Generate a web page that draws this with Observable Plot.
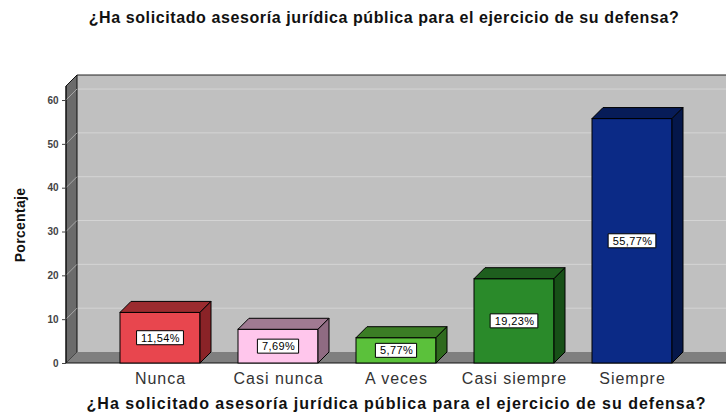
<!DOCTYPE html>
<html><head><meta charset="utf-8">
<script src="https://cdn.jsdelivr.net/npm/d3@7"></script>
<script src="https://cdn.jsdelivr.net/npm/@observablehq/plot@0.6"></script>
<style>
html,body{margin:0;padding:0;background:#fff;overflow:hidden;}
body{font-family:"Liberation Sans",Arial,sans-serif;}
#title{height:30px;line-height:36px;text-align:center;font-weight:bold;font-size:16px;letter-spacing:0.6px;color:#111;padding-left:42px;box-sizing:border-box;white-space:nowrap;}
#chart svg{display:block;}
g[aria-label="y-axis tick label"]{font-weight:bold;}
g[aria-label="x-axis tick label"] text{letter-spacing:1px;}
</style></head><body>
<div id="title"></div>
<div id="chart"></div>
<script>
const titleText = "¿Ha solicitado asesoría jurídica pública para el ejercicio de su defensa?";
const xAxisTitle = "¿Ha solicitado asesoría jurídica pública para el ejercicio de su defensa?";
const yLabel = "Porcentaje";
const categories = ["Nunca", "Casi nunca", "A veces", "Casi siempre", "Siempre"];
const percentages = [11.54, 7.69, 5.77, 19.23, 55.77];
const valueLabels = ["11,54%", "7,69%", "5,77%", "19,23%", "55,77%"];
const yTicks = [0, 10, 20, 30, 40, 50, 60];
const frontColors = ["#e8464e", "#ffc6ec", "#5bc13b", "#2a8a2a", "#0b2a86"];
const topColors = ["#9b2b2f", "#a07a92", "#3b7d25", "#1e5e1e", "#071c58"];
const sideColors = ["#8a2327", "#8f6b82", "#2f6a1e", "#175017", "#05174a"];

document.getElementById("title").textContent = titleText;

const data = categories.map((c, i) => ({
  category: c, value: percentages[i], label: valueLabels[i],
  front: frontColors[i], top: topColors[i], side: sideColors[i]
}));

const DEPTH = 11;
const Y_MAX = 63.2;
const LABEL_SPACING = 0.4;

const ctx = document.createElement("canvas").getContext("2d");
function measure(t, font) { ctx.font = font; return ctx.measureText(t).width; }

function bandwidthOf(scales) {
  if (scales.scales && scales.scales.x && scales.scales.x.bandwidth != null) return scales.scales.x.bandwidth;
  const bw = scales.x.bandwidth;
  return typeof bw === "function" ? bw() : bw;
}

function walls(index, scales, values, dims) {
  const sy = scales.y;
  const {width, marginLeft} = dims;
  const xf = marginLeft, xb = marginLeft + DEPTH, xr = width + DEPTH;
  const y0 = sy(0), yT = sy(Y_MAX);
  const g = d3.create("svg:g");
  g.append("rect").attr("x", xb).attr("y", yT - DEPTH).attr("width", xr - xb)
    .attr("height", y0 - yT).attr("fill", "#c0c0c0");
  for (const t of yTicks.slice(1)) {
    const yy = sy(t) - DEPTH;
    g.append("path").attr("d", `M${xb},${yy}H${xr}`).attr("stroke", "#d4d4d4").attr("fill", "none");
  }
  g.append("path").attr("d", `M${xb},${yT - DEPTH}H${xr}`).attr("stroke", "#222").attr("fill", "none");
  g.append("path").attr("d", `M${xf},${yT}L${xb},${yT - DEPTH}L${xb},${y0 - DEPTH}L${xf},${y0}Z`)
    .attr("fill", "#6b6b6b").attr("stroke", "#111");
  for (const t of yTicks.slice(1)) {
    const yy = sy(t);
    g.append("path").attr("d", `M${xf},${yy}L${xb},${yy - DEPTH}`).attr("stroke", "#a8a8a8").attr("fill", "none");
  }
  g.append("path").attr("d", `M${xf},${y0}L${xb},${y0 - DEPTH}H${xr}V${y0}Z`).attr("fill", "#7f7f7f");
  g.append("path").attr("d", `M${xf},${y0}H${xr}`).attr("stroke", "#111").attr("fill", "none");
  g.append("path").attr("d", `M${xf},${yT}V${y0}`).attr("stroke", "#111").attr("fill", "none");
  return g.node();
}

function bars3d(index, scales, values, dims) {
  const sx = scales.x, sy = scales.y;
  const bw = bandwidthOf(scales);
  const y0 = sy(0);
  const g = d3.create("svg:g").attr("stroke", "#000").attr("stroke-width", 1).attr("stroke-linejoin", "round");
  for (const d of data) {
    const xl = sx(d.category), xr = xl + bw, yt = sy(d.value);
    g.append("path").attr("fill", d.top)
      .attr("d", `M${xl},${yt}L${xl + DEPTH},${yt - DEPTH}L${xr + DEPTH},${yt - DEPTH}L${xr},${yt}Z`);
    g.append("path").attr("fill", d.side)
      .attr("d", `M${xr},${yt}L${xr + DEPTH},${yt - DEPTH}L${xr + DEPTH},${y0 - DEPTH}L${xr},${y0}Z`);
    const tw = measure(d.label, '11px "Liberation Sans"') + LABEL_SPACING * d.label.length;
    g.append("rect").attr("fill", "#fff")
      .attr("x", xl + bw / 2 - tw / 2 - 4).attr("y", (yt + y0) / 2 - 7)
      .attr("width", tw + 8).attr("height", 14);
  }
  return g.node();
}

const chart = Plot.plot({
  width: 726, height: 383,
  marginLeft: 66, marginRight: 0, marginTop: 56, marginBottom: 50,
  style: {fontFamily: '"Liberation Sans", Arial, sans-serif', background: "transparent"},
  x: {domain: categories, paddingInner: 0.318, paddingOuter: 0.44, axis: null},
  y: {domain: [0, Y_MAX], axis: null},
  color: {type: "identity"},
  marks: [
    walls,
    Plot.barY(data, {x: "category", y: "value", fill: "front", stroke: "#000", strokeWidth: 1}),
    bars3d,
    Plot.text(data, {x: "category", y: d => d.value / 2, text: "label", fontSize: 11, fill: "#000"}),
    Plot.axisX({tickSize: 0, tickPadding: 9, fontSize: 16, color: "#333", label: null}),
    Plot.axisY({ticks: yTicks, tickSize: 4, tickPadding: 4, fontSize: 10, fontWeight: "bold", color: "#444", label: null}),
    Plot.text([yLabel], {frameAnchor: "left", textAnchor: "middle", lineAnchor: "middle", text: d => d, rotate: -90, dx: -46, fontSize: 14, fontWeight: "bold", fill: "#111"}),
    Plot.text([xAxisTitle], {frameAnchor: "bottom", textAnchor: "middle", lineAnchor: "middle", text: d => d, dy: 40, fontSize: 16, fontWeight: "bold", fill: "#111"})
  ]
});
document.getElementById("chart").appendChild(chart);

// letter spacing tweaks for wider lettering
chart.querySelectorAll("text").forEach(t => {
  const s = t.textContent;
  if (s === xAxisTitle) t.style.letterSpacing = "1px";
  else if (s === yLabel) t.style.letterSpacing = "0.3px";
  else if (valueLabels.includes(s)) t.style.letterSpacing = LABEL_SPACING + "px";
});
</script>
</body></html>
